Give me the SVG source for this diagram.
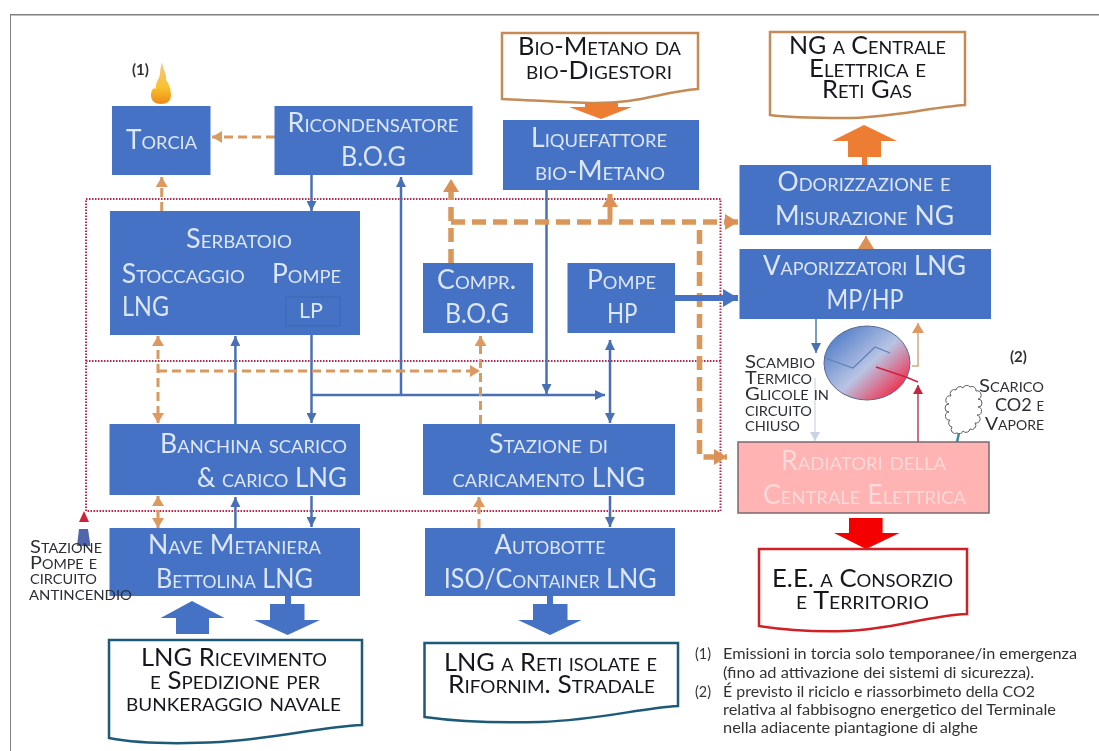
<svg xmlns="http://www.w3.org/2000/svg" width="1099" height="751" viewBox="0 0 1099 751">
<style>
text{font-family:"Lato","Open Sans","Liberation Sans",sans-serif;font-variant:small-caps}
.w{font-size:26px;fill:#dde6f6}
.d{font-size:25px;fill:#15181f}
.p{font-size:26px;fill:#f9d9d9}
.s{font-size:18px;fill:#2c2f35}
.n{font-size:14.5px;fill:#333;font-variant:normal}
.b{fill:#4472c4}
.doc{fill:#fff;stroke-width:2.5}
.c{fill:none}
.bl{stroke:#4a6fb5;stroke-width:2.5}
.or{stroke:#d99a5f;stroke-width:3;stroke-dasharray:9 5}
.ot{stroke:#d9975a;stroke-width:5.500;stroke-dasharray:14 7}
.rd{stroke:#b00030;stroke-width:2;stroke-dasharray:1.500 1.500;opacity:.85}
</style>
<defs>
<marker id="mb" markerUnits="userSpaceOnUse" markerWidth="12" markerHeight="10" refX="10" refY="5" orient="auto-start-reverse"><path d="M0 0L10 5L0 10Z" fill="#4a6fb5"/></marker>
<marker id="mo" markerUnits="userSpaceOnUse" markerWidth="12" markerHeight="12" refX="10" refY="6" orient="auto-start-reverse"><path d="M0 0L10 6L0 12Z" fill="#dd9960"/></marker>
<marker id="mt" markerUnits="userSpaceOnUse" markerWidth="14" markerHeight="16" refX="13" refY="8" orient="auto"><path d="M0 0L13 8L0 16Z" fill="#dd9055"/></marker>
<marker id="mB" markerUnits="userSpaceOnUse" markerWidth="16" markerHeight="18" refX="15" refY="9" orient="auto"><path d="M0 0L15 9L0 18Z" fill="#4472c4"/></marker>
<marker id="mr" markerUnits="userSpaceOnUse" markerWidth="10" markerHeight="10" refX="9" refY="5" orient="auto"><path d="M0 0L9 5L0 10Z" fill="#c8203c"/></marker>
<marker id="mp" markerUnits="userSpaceOnUse" markerWidth="10" markerHeight="10" refX="9" refY="5" orient="auto"><path d="M0 0L9 5L0 10Z" fill="#c8d4e6"/></marker>
<linearGradient id="sph" x1="0.1" y1="0.1" x2="0.9" y2="0.85"><stop offset="0" stop-color="#4f7cc8"/><stop offset="0.55" stop-color="#b9c4e4"/><stop offset="1" stop-color="#f0304c"/></linearGradient>
<linearGradient id="fl" x1="0" y1="0" x2="0" y2="1"><stop offset="0" stop-color="#f3c58a"/><stop offset="0.6" stop-color="#f9c22e"/><stop offset="1" stop-color="#ee8a18"/></linearGradient>
<filter id="soft" x="0" y="0" width="100%" height="100%"><feGaussianBlur stdDeviation="0.55"/></filter>
</defs>
<rect width="1099" height="751" fill="#fff"/>
<g filter="url(#soft)">
<path d="M10 751V14.500H1099" fill="none" stroke="#808080" stroke-width="2"/>

<g id="connectors">
<path class="c rd" d="M86 511V199H720.500V511H86M86 361H720.500"/>
<path class="c or" d="M275 137H212" marker-end="url(#mo)"/>
<path class="c or" d="M161.700 211V177" marker-end="url(#mo)"/>
<path class="c bl" d="M311.500 175V211" marker-end="url(#mb)"/>
<path class="c bl" d="M401 395V177" marker-end="url(#mb)"/>
<path class="c bl" d="M546.500 190V394" marker-end="url(#mb)"/>
<path class="c bl" d="M311.500 335V423" marker-end="url(#mb)"/>
<path class="c bl" d="M311.500 395H605" marker-end="url(#mb)"/>
<path class="c bl" d="M610 340V423" marker-start="url(#mb)" marker-end="url(#mb)"/>
<path class="c bl" d="M235.400 424V336" marker-end="url(#mb)"/>
<path class="c bl" d="M235.400 528V497" marker-end="url(#mb)"/>
<path class="c bl" d="M311.500 496V527" marker-end="url(#mb)"/>
<path class="c bl" d="M610 496V527" marker-end="url(#mb)"/>
<path class="c or" d="M158 336V423" marker-start="url(#mo)" marker-end="url(#mo)"/>
<path class="c or" d="M158 371H480" marker-end="url(#mo)"/>
<path class="c or" d="M480.500 424V336" marker-end="url(#mo)"/>
<path class="c or" d="M158 496V528" marker-start="url(#mo)" marker-end="url(#mo)"/>
<path class="c or" d="M479 528V497" marker-end="url(#mo)"/>
<path class="c ot" d="M451 263V179" marker-end="url(#mt)"/>
<path class="c ot" d="M451 222H738" marker-end="url(#mt)"/>
<path class="c" stroke="#d9975a" stroke-width="5" d="M610 222V194" marker-end="url(#mt)"/>
<path class="c ot" d="M699.500 230V457H727" marker-end="url(#mt)"/>
<path class="c" stroke="#4472c4" stroke-width="6" d="M675 298H738" marker-end="url(#mB)"/>
<path class="c" stroke="#d9975a" stroke-width="2" d="M866 249V236" marker-end="url(#mt)"/>
<path class="c" stroke="#4f7ab5" stroke-width="1.500" d="M816 319V353" marker-end="url(#mb)"/>
<path class="c" stroke="#d8a880" stroke-width="1.500" d="M912 366H918V323" marker-end="url(#mo)"/>
<path class="c" stroke="#c0607a" stroke-width="1.800" d="M918 442V385" marker-end="url(#mr)"/>
<path class="c" stroke="#d5deec" stroke-width="1.500" d="M815 378V441" marker-end="url(#mp)"/>
<path d="M957 442L959 433" fill="none" stroke="#3a8aa0" stroke-width="2.500"/>
<path fill="#ed7d31" d="M585 97H618V107H632L601 119L569 107H585Z"/>
<path fill="#ed7d31" d="M862 165V157H848V141H832L864 125L897 141H881V157H867V165Z"/>
<path fill="#4472c4" d="M176 634V618H160.600L192 601L224.500 618H209V634Z"/>
<path fill="#4472c4" d="M285 596H291V604H304.500V620H320L287.600 635L254 620H270V604H285Z"/>
<path fill="#4472c4" d="M547 596H553V604H567.500V620H581.500L550 635L518 620H533V604H547Z"/>
<path fill="#f40000" d="M849 518H882.600V533H899.500L866 549L834 533H849Z"/>
</g>

<g id="torcia"><rect class="b" x="112" y="106" width="98.500" height="69"/><text class="w" x="126" y="149" textLength="71" lengthAdjust="spacingAndGlyphs">Torcia</text></g>
<g id="fiamma"><path fill="url(#fl)" d="M162 62C163 70 167 74 166 80C169 83 171 90 171 95C171 101 167 104 161 104C155 104 151 101 151 95C151 90 154 87 156 89C155 82 159 80 160 74C160 70 161 66 162 62Z"/><text x="132" y="75" font-size="15" font-weight="700" style="font-variant:normal;fill:#333">(1)</text></g>
<g id="ricondensatore"><rect class="b" x="274.500" y="106" width="198" height="69"/><text class="w" x="287.600" y="132" textLength="171" lengthAdjust="spacingAndGlyphs">Ricondensatore</text><text class="w" x="341" y="166" textLength="65" lengthAdjust="spacingAndGlyphs">B.O.G</text></g>
<g id="bio-metano-doc"><path class="doc" stroke="#c58a55" d="M502 33H698V89C660 92 640 104 590 103C550 102 530 100 502 99Z"/><text class="d" x="518" y="55" textLength="163" lengthAdjust="spacingAndGlyphs">Bio-Metano da</text><text class="d" x="526" y="79" textLength="146" lengthAdjust="spacingAndGlyphs">bio-Digestori</text></g>
<g id="liquefattore"><rect class="b" x="503" y="120" width="196" height="70"/><text class="w" x="531" y="147" textLength="136" lengthAdjust="spacingAndGlyphs">Liquefattore</text><text class="w" x="535" y="180" textLength="130" lengthAdjust="spacingAndGlyphs">bio-Metano</text></g>
<g id="ng-doc"><path class="doc" stroke="#c58a55" d="M770 32H965V105C925 108 890 118 845 118C815 118 790 118 770 115Z"/><text class="d" x="789" y="54" textLength="157" lengthAdjust="spacingAndGlyphs">NG a Centrale</text><text class="d" x="809" y="77" textLength="117" lengthAdjust="spacingAndGlyphs">Elettrica e</text><text class="d" x="822" y="98" textLength="90" lengthAdjust="spacingAndGlyphs">Reti Gas</text></g>
<g id="odorizzazione"><rect class="b" x="739.500" y="165" width="251.500" height="70"/><text class="w" x="777.600" y="191" textLength="173" lengthAdjust="spacingAndGlyphs">Odorizzazione e</text><text class="w" x="775" y="225" textLength="179" lengthAdjust="spacingAndGlyphs">Misurazione NG</text></g>
<g id="vaporizzatori"><rect class="b" x="739.500" y="249" width="251.500" height="70"/><text class="w" x="763" y="275" textLength="203" lengthAdjust="spacingAndGlyphs">Vaporizzatori LNG</text><text class="w" x="826.600" y="309" textLength="77" lengthAdjust="spacingAndGlyphs">MP/HP</text></g>
<g id="serbatoio"><rect class="b" x="110" y="211" width="250" height="124"/><rect x="286" y="297" width="54" height="29" fill="none" stroke="#3f68b2"/><text class="w" x="186" y="248" textLength="106" lengthAdjust="spacingAndGlyphs">Serbatoio</text><text class="w" x="121.700" y="283" textLength="123" lengthAdjust="spacingAndGlyphs">Stoccaggio</text><text class="w" x="272" y="283" textLength="69" lengthAdjust="spacingAndGlyphs">Pompe</text><text class="w" x="122" y="316" textLength="47" lengthAdjust="spacingAndGlyphs">LNG</text><text class="w" x="299" y="318" textLength="24" lengthAdjust="spacingAndGlyphs" style="font-size:21px">LP</text></g>
<g id="compr"><rect class="b" x="423" y="263" width="110" height="70"/><text class="w" x="437" y="289" textLength="79" lengthAdjust="spacingAndGlyphs">Compr.</text><text class="w" x="445" y="323" textLength="64" lengthAdjust="spacingAndGlyphs">B.O.G</text></g>
<g id="pompe-hp"><rect class="b" x="567.500" y="263" width="107.500" height="70"/><text class="w" x="587" y="289" textLength="69" lengthAdjust="spacingAndGlyphs">Pompe</text><text class="w" x="607" y="323" textLength="30.500" lengthAdjust="spacingAndGlyphs">HP</text></g>
<g id="banchina"><rect class="b" x="109.500" y="424" width="250.500" height="71"/><text class="w" x="160" y="453" textLength="187" lengthAdjust="spacingAndGlyphs">Banchina scarico</text><text class="w" x="197" y="487" textLength="150" lengthAdjust="spacingAndGlyphs">&amp; carico LNG</text></g>
<g id="stazione-caricamento"><rect class="b" x="423" y="424" width="252" height="71"/><text class="w" x="489" y="453" textLength="119" lengthAdjust="spacingAndGlyphs">Stazione di</text><text class="w" x="452.500" y="487" textLength="192.500" lengthAdjust="spacingAndGlyphs">caricamento LNG</text></g>
<g id="nave"><rect class="b" x="109.500" y="528" width="250.500" height="68"/><text class="w" x="148" y="554" textLength="173" lengthAdjust="spacingAndGlyphs">Nave Metaniera</text><text class="w" x="156" y="588" textLength="157" lengthAdjust="spacingAndGlyphs">Bettolina LNG</text></g>
<g id="autobotte"><rect class="b" x="425" y="528" width="250" height="68"/><text class="w" x="494.600" y="554" textLength="111" lengthAdjust="spacingAndGlyphs">Autobotte</text><text class="w" x="443.700" y="588" textLength="213" lengthAdjust="spacingAndGlyphs">ISO/Container LNG</text></g>
<g id="scambio"><ellipse cx="867" cy="363" rx="43" ry="37" fill="url(#sph)" stroke="#5a6a90"/><path d="M825 358L853 368L875 347L890 353" fill="none" stroke="#5f7fb8" stroke-width="1.200"/><path d="M876 367L906 377L918 382" fill="none" stroke="#d02040" stroke-width="1.500"/><text class="s" x="745" y="368" textLength="70" lengthAdjust="spacingAndGlyphs">Scambio</text><text class="s" x="745" y="384" textLength="67" lengthAdjust="spacingAndGlyphs">Termico</text><text class="s" x="745" y="400" textLength="84" lengthAdjust="spacingAndGlyphs">Glicole in</text><text class="s" x="745" y="416" textLength="67" lengthAdjust="spacingAndGlyphs">circuito</text><text class="s" x="745" y="431" textLength="55" lengthAdjust="spacingAndGlyphs">chiuso</text></g>
<g id="radiatori"><rect x="738" y="442" width="251" height="71" fill="#ffb3b3" stroke="#7a6a70" stroke-width="1.500"/><text class="p" x="781" y="470" textLength="165" lengthAdjust="spacingAndGlyphs">Radiatori della</text><text class="p" x="763" y="504" textLength="203" lengthAdjust="spacingAndGlyphs">Centrale Elettrica</text></g>
<g id="scarico"><path d="M957 433A4 4 0 0 1 952 427A4 4 0 0 1 950 420A4 4 0 0 1 949 412A4 4 0 0 1 949 404A4 4 0 0 1 951 396A4 4 0 0 1 956 390A4 4 0 0 1 963 388A4 4 0 0 1 970 387A4 4 0 0 1 976 391A4 4 0 0 1 978 399A4 4 0 0 1 978 407A4 4 0 0 1 977 415A4 4 0 0 1 975 423A4 4 0 0 1 970 429A4 4 0 0 1 963 431A4 4 0 0 1 957 433Z" fill="#fff" stroke="#606060" stroke-width="1"/><text class="s" x="979" y="392" textLength="65" lengthAdjust="spacingAndGlyphs">Scarico</text><text class="s" x="995" y="411" textLength="49" lengthAdjust="spacingAndGlyphs">CO2 e</text><text class="s" x="985" y="430" textLength="59" lengthAdjust="spacingAndGlyphs">Vapore</text><text x="1010" y="362" font-size="15" font-weight="700" style="font-variant:normal;fill:#333">(2)</text></g>
<g id="ee-doc"><path class="doc" stroke="#d02028" stroke-width="3" d="M759 549H967V614C925 616 890 630 845 631C810 632 785 630 759 626Z"/><text class="d" x="772" y="587" textLength="181" lengthAdjust="spacingAndGlyphs">E.E. a Consorzio</text><text class="d" x="796" y="609" textLength="133" lengthAdjust="spacingAndGlyphs">e Territorio</text></g>
<g id="stazione-pompe"><path fill="#4f66ad" d="M79 529H88L90.500 546H77Z"/><path d="M84 511L89 522H79Z" fill="#d0203c"/><text class="s" x="30" y="553" textLength="72" lengthAdjust="spacingAndGlyphs">Stazione</text><text class="s" x="30" y="569" textLength="67" lengthAdjust="spacingAndGlyphs">Pompe e</text><text class="s" x="30" y="584" textLength="67" lengthAdjust="spacingAndGlyphs">circuito</text><text class="s" x="29" y="600" textLength="103" lengthAdjust="spacingAndGlyphs">antincendio</text></g>
<g id="lng-doc"><path class="doc" stroke="#1f5a78" d="M109 640H362V725C320 727 280 738 220 742C180 744 140 744 109 738Z"/><text class="d" x="141" y="666" textLength="186" lengthAdjust="spacingAndGlyphs">LNG Ricevimento</text><text class="d" x="150" y="689" textLength="170" lengthAdjust="spacingAndGlyphs">e Spedizione per</text><text class="d" x="126" y="711" textLength="215" lengthAdjust="spacingAndGlyphs">bunkeraggio navale</text></g>
<g id="lng-reti-doc"><path class="doc" stroke="#1f5a78" d="M424.500 643H678V706C640 708 600 720 540 722C500 723 460 722 424.500 717Z"/><text class="d" x="444" y="671" textLength="213" lengthAdjust="spacingAndGlyphs">LNG a Reti isolate e</text><text class="d" x="448" y="693" textLength="207" lengthAdjust="spacingAndGlyphs">Rifornim. Stradale</text></g>
<g id="note"><text class="n" x="695" y="659" textLength="16" lengthAdjust="spacingAndGlyphs">(1)</text><text class="n" x="723" y="659" textLength="354" lengthAdjust="spacingAndGlyphs">Emissioni in torcia solo temporanee/in emergenza</text><text class="n" x="723" y="678" textLength="311" lengthAdjust="spacingAndGlyphs">(fino ad attivazione dei sistemi di sicurezza).</text><text class="n" x="695" y="697" textLength="16" lengthAdjust="spacingAndGlyphs">(2)</text><text class="n" x="723" y="697" textLength="312" lengthAdjust="spacingAndGlyphs">É previsto il riciclo e riassorbimeto della CO2</text><text class="n" x="723" y="715" textLength="333" lengthAdjust="spacingAndGlyphs">relativa al fabbisogno energetico del Terminale</text><text class="n" x="723" y="733" textLength="255" lengthAdjust="spacingAndGlyphs">nella adiacente piantagione di alghe</text></g>
</g>
</svg>
